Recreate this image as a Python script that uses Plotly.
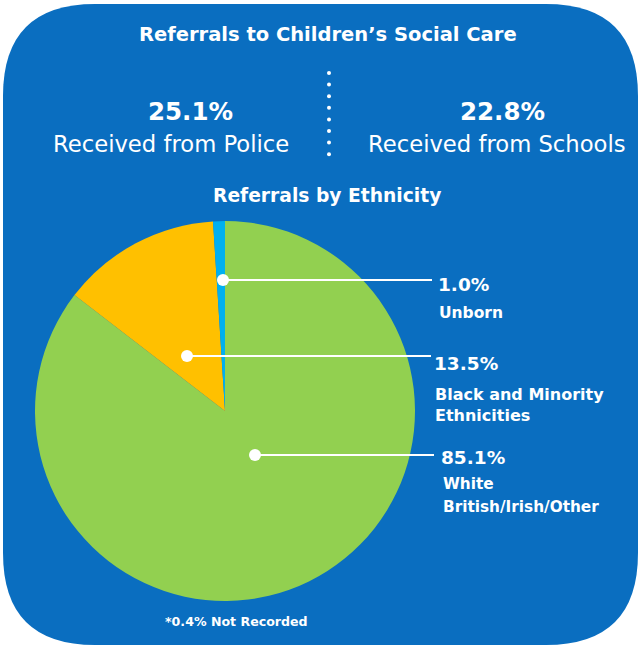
import plotly.graph_objects as go

W, H = 641, 647

# ---- data ----
eth_labels = ["White British/Irish/Other", "Black and Minority Ethnicities", "Unborn"]
eth_values = [85.1, 13.5, 1.0]
eth_colors = ["#92D050", "#FFC000", "#00B0F0"]
stat_values = ["25.1%", "22.8%"]
stat_labels = ["Received from Police", "Received from Schools"]
title_text = "Referrals to Children’s Social Care"
subtitle_text = "Referrals by Ethnicity"
footnote_text = "*0.4% Not Recorded"
callout_pct = ["1.0%", "13.5%", "85.1%"]
callout_lines = [["Unborn"], ["Black and Minority", "Ethnicities"], ["White", "British/Irish/Other"]]

BG = "#0A6EC0"
FONT = "DejaVu Sans"

fig = go.Figure()

# pie: centre (225, 411), radius 190 in pixels
cx, cy, r = 225, 411, 190
fig.add_trace(go.Pie(
    labels=eth_labels, values=eth_values, sort=False, direction="clockwise",
    rotation=0, marker=dict(colors=eth_colors, line=dict(width=0)),
    textinfo="none", hoverinfo="label+percent", showlegend=False,
    domain=dict(x=[(cx - r) / W, (cx + r) / W], y=[1 - (cy + r) / H, 1 - (cy - r) / H]),
))

# hidden pixel axes for positioning
fig.update_xaxes(range=[0, W], visible=False, fixedrange=True)
fig.update_yaxes(range=[H, 0], visible=False, fixedrange=True)

shapes = []
# rounded background
x0, y0, x1, y1, rr = 3, 4, 638, 645, 92
path = (f"M {x0+rr},{y0} L {x1-rr},{y0} Q {x1},{y0} {x1},{y0+rr} "
        f"L {x1},{y1-rr} Q {x1},{y1} {x1-rr},{y1} L {x0+rr},{y1} "
        f"Q {x0},{y1} {x0},{y1-rr} L {x0},{y0+rr} Q {x0},{y0} {x0+rr},{y0} Z")
shapes.append(dict(type="path", path=path, xref="x", yref="y",
                   fillcolor=BG, line=dict(width=0), layer="below"))

# dotted separator
for i in range(8):
    yy = 73 + i * 11.6
    shapes.append(dict(type="circle", xref="x", yref="y", x0=327, x1=331,
                       y0=yy - 2, y1=yy + 2, fillcolor="white",
                       line=dict(width=0), layer="above"))

# leader lines with dots
leaders = [((223, 280), 432), ((187, 356), 431), ((255, 455), 434)]
for (dx, dy), xe in leaders:
    shapes.append(dict(type="line", xref="x", yref="y", x0=dx, y0=dy, x1=xe, y1=dy,
                       line=dict(color="white", width=2), layer="above"))
    shapes.append(dict(type="circle", xref="x", yref="y", x0=dx - 6, x1=dx + 6,
                       y0=dy - 6, y1=dy + 6, fillcolor="white",
                       line=dict(width=0), layer="above"))

ann = []
def txt(x, y, s, size, bold=False, anchor="center"):
    ann.append(dict(x=x, y=y, xref="x", yref="y", text=(f"<b>{s}</b>" if bold else s),
                    showarrow=False, xanchor=anchor, yanchor="middle", align="left",
                    font=dict(family=FONT, size=size, color="white")))

txt(328, 34, title_text, 19.5, True)
txt(190, 111, stat_values[0], 24.5, True)
txt(502, 111, stat_values[1], 24.5, True)
txt(171, 144, stat_labels[0], 22.7)
txt(497, 144, stat_labels[1], 22.7)
txt(327, 195, subtitle_text, 18.7, True)

pct_pos = [(436, 284), (432, 363), (439, 457)]
line_pos = [[(437, 313)], [(433, 394), (433, 415)], [(441, 484), (441, 507)]]
line_sizes = [15.5, 16, 15.3]
for k in range(3):
    txt(pct_pos[k][0], pct_pos[k][1], callout_pct[k], 18.5, True, "left")
    for (lx, ly), s in zip(line_pos[k], callout_lines[k]):
        txt(lx, ly, s, line_sizes[k], True, "left")

txt(236, 621, footnote_text, 12.6, True)

fig.update_layout(
    width=W, height=H, margin=dict(l=0, r=0, t=0, b=0),
    paper_bgcolor="white", plot_bgcolor="rgba(0,0,0,0)",
    shapes=shapes, annotations=ann, showlegend=False,
)
fig.write_html("out.html")
